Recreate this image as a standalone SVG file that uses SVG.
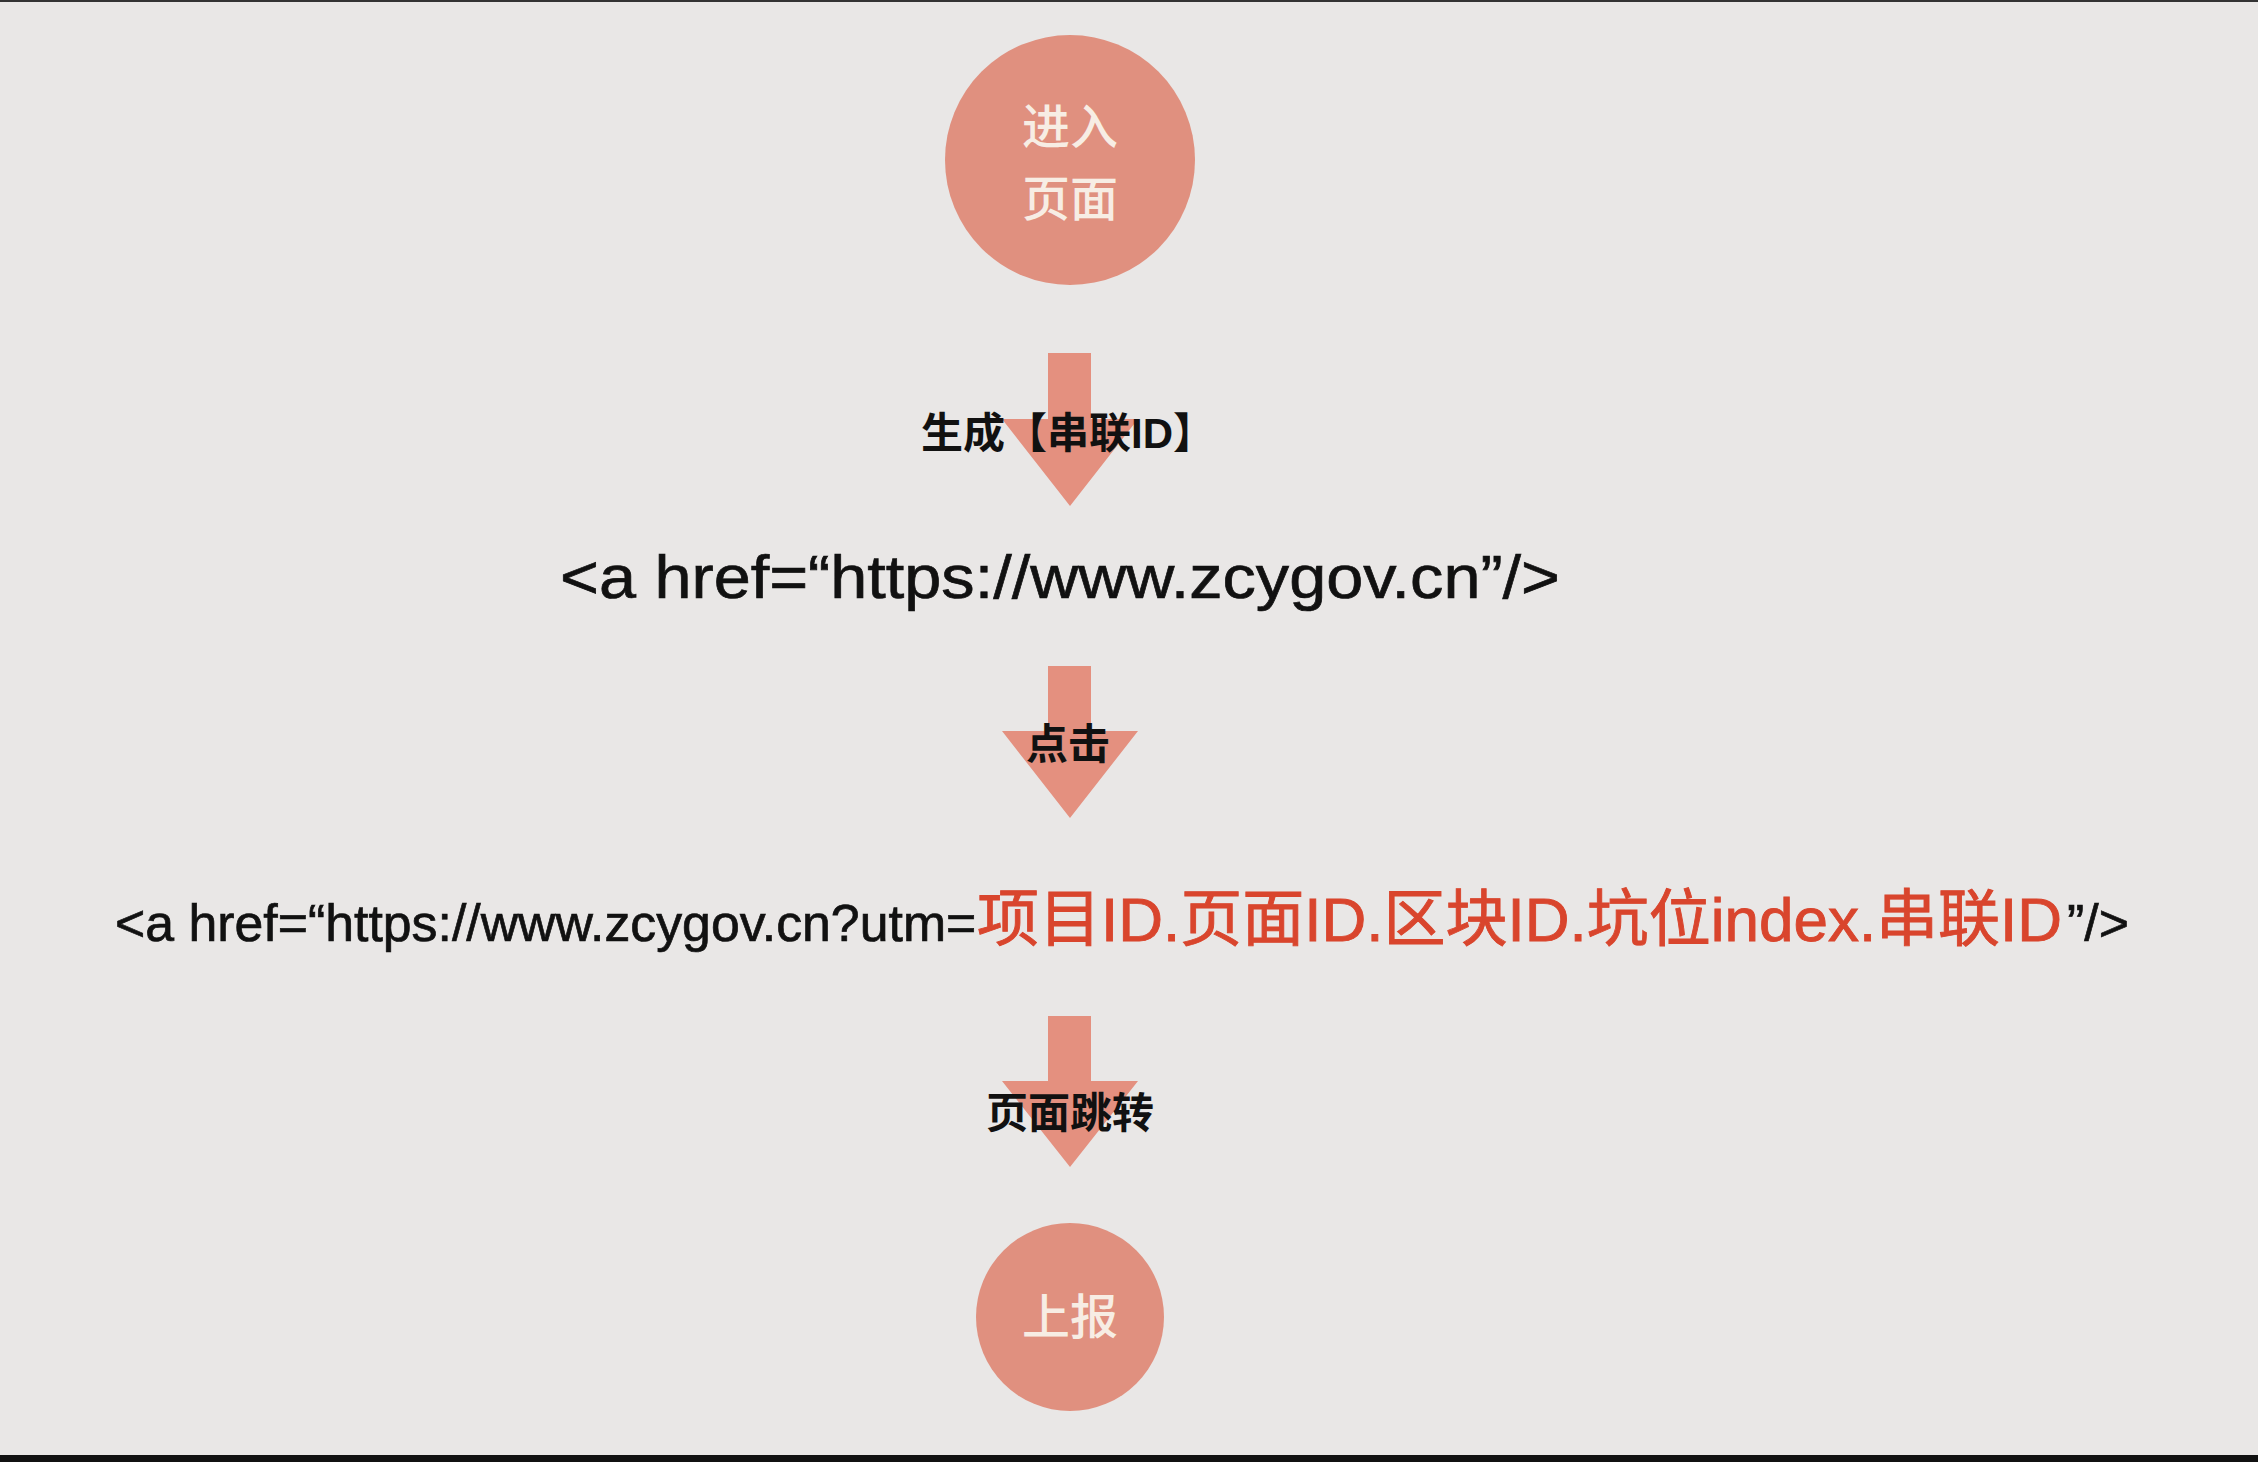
<svg xmlns="http://www.w3.org/2000/svg" width="2258" height="1462" viewBox="0 0 2258 1462">
<style>
.bg{fill:#e9e7e6}
.circle{fill:#e0907f}
.arrow{fill:#e4907f}
.ctext{font-family:"Noto Sans CJK SC","Noto Sans",sans-serif;font-size:48px;font-weight:500;fill:#f7ede4;text-anchor:middle}
.label{font-family:"Liberation Sans","Noto Sans CJK SC",sans-serif;font-weight:bold;font-size:42px;fill:#111;text-anchor:middle}
.code{font-family:"Liberation Sans","Noto Sans CJK SC",sans-serif;fill:#111;stroke:#111;stroke-width:0.7}
.red{fill:#d9452d;stroke:#d9452d;stroke-width:0.9}
</style>
<rect class="bg" x="0" y="0" width="2258" height="1462"/>
<rect x="0" y="0" width="2258" height="2" fill="#333"/>
<rect x="0" y="1455" width="2258" height="7" fill="#111"/>
<g id="connectors">
<path class="arrow" d="M1048,353 H1091 V419 H1138 L1070,506 L1002,419 H1048 Z"/>
<path class="arrow" d="M1048,666 H1091 V731 H1138 L1070,818 L1002,731 H1048 Z"/>
<path class="arrow" d="M1048,1016 H1091 V1081 H1138 L1070,1167 L1002,1081 H1048 Z"/>
</g>
<g id="node-enter">
<circle class="circle" cx="1070" cy="160" r="125"/>
<text class="ctext" x="1070" y="144">进入</text>
<text class="ctext" x="1070" y="216">页面</text>
</g>
<g id="label-generate">
<text class="label" x="1068" y="448" font-size="43.5">生成【串联ID】</text>
</g>
<g id="node-link">
<text class="code" x="560" y="598" font-size="62" stroke-width="1.3" textLength="1000" lengthAdjust="spacingAndGlyphs">&lt;a href=“https://www.zcygov.cn”/&gt;</text>
</g>
<g id="label-click">
<text class="label" x="1068" y="759" font-size="43">点击</text>
</g>
<g id="node-utm">
<text class="code" y="941" font-size="51.8"><tspan x="115">&lt;a href=“https://www.zcygov.cn?utm=</tspan><tspan class="red" x="977" font-size="62">项目ID.页面ID.区块ID.坑位index.串联ID</tspan><tspan x="2067">”/&gt;</tspan></text>
</g>
<g id="label-jump">
<text class="label" x="1070" y="1128" font-size="43">页面跳转</text>
</g>
<g id="node-report">
<circle class="circle" cx="1070" cy="1317" r="94"/>
<text class="ctext" x="1070" y="1334">上报</text>
</g>
</svg>
